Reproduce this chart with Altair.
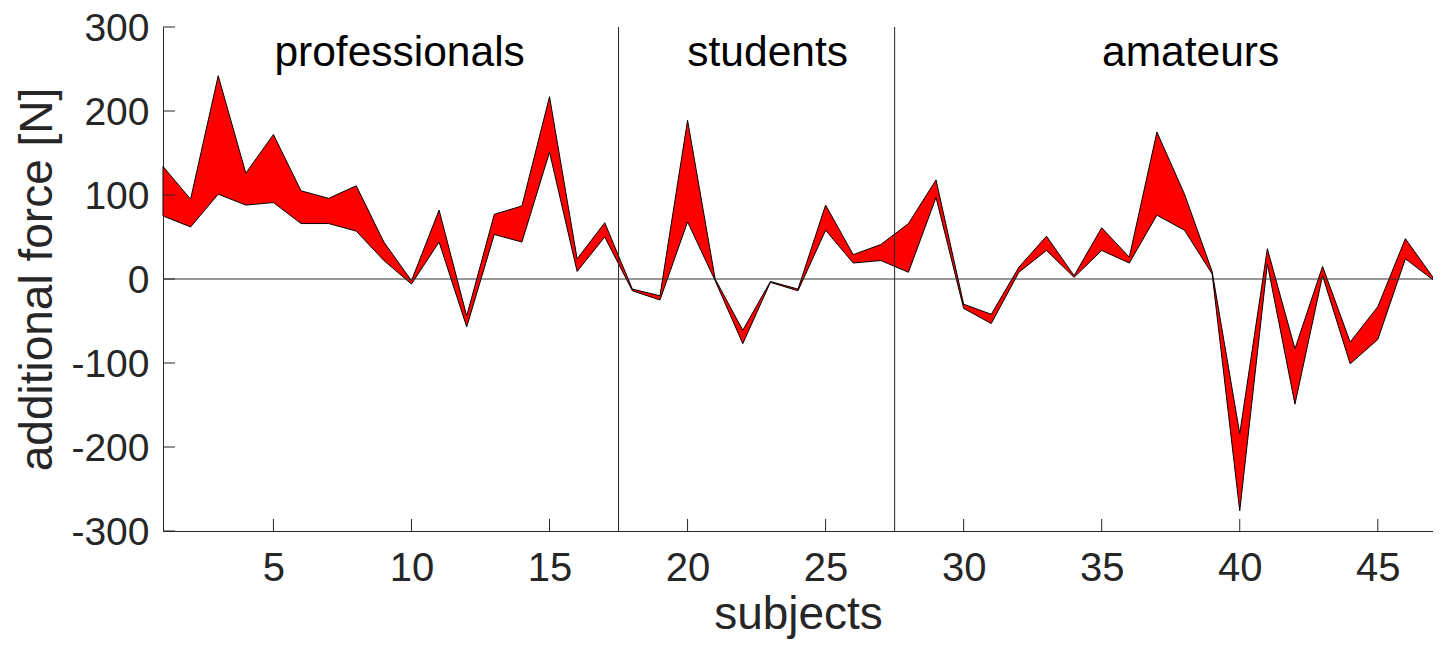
import altair as alt
import pandas as pd

subjects = list(range(1, 48))
upper = [134, 95, 242, 126, 172, 105, 96, 111, 44, -2,
         82, -44, 77, 87, 217, 24, 67, -12, -20, 189,
         0, -61, -3, -12, 88, 29, 41, 66, 118, -30,
         -42, 14, 51, 4, 61, 26, 175, 101, 9, -184,
         36, -83, 15, -75, -33, 48, 2]
lower = [75, 62, 101, 88, 91, 66, 66, 57, 22, -6,
         44, -57, 53, 44, 151, 9, 50, -14, -25, 68,
         -2, -77, -4, -14, 58, 19, 22, 8, 97, -35,
         -53, 8, 34, 2, 34, 19, 76, 58, 6, -276,
         18, -149, 4, -101, -72, 24, -1]

group_names = ["professionals", "students", "amateurs"]
group_x = [9.57, 22.9, 38.22]
group_y = [253, 253, 253]
group_bounds = [17.5, 27.5]

x_ticks = [5, 10, 15, 20, 25, 30, 35, 40, 45]
y_ticks = [-300, -200, -100, 0, 100, 200, 300]

FONT = "Liberation Sans"
W, H = 1270, 504

df = pd.DataFrame({"subject": subjects, "upper": upper, "lower": lower})
xs = alt.Scale(domain=[1, 47], nice=False, zero=False)
ys = alt.Scale(domain=[-300, 300], nice=False, zero=False)

area = alt.Chart(df).mark_area(
    color="#ff0000", stroke="black", strokeWidth=1, interpolate="linear", opacity=1
).encode(
    x=alt.X("subject:Q", scale=xs, title="subjects",
            axis=alt.Axis(values=x_ticks, labelPadding=17, titlePadding=4,
                          labelFontSize=40, titleFontSize=46,
                          labelExpr="toString(datum.value)")),
    y=alt.Y("upper:Q", scale=ys, title="additional force [N]",
            axis=alt.Axis(values=y_ticks, labelPadding=14, titlePadding=9,
                          labelFontSize=39, titleFontSize=46, labelOffset=1.5,
                          labelExpr="toString(datum.value)")),
    y2="lower:Q",
)

zero = alt.Chart(pd.DataFrame({"z": [0]})).mark_rule(
    color="#303030", strokeWidth=1
).encode(y=alt.Y("z:Q", scale=ys))

dividers = alt.Chart(pd.DataFrame({"b": group_bounds})).mark_rule(
    color="#262626", strokeWidth=1
).encode(x=alt.X("b:Q", scale=xs))

labels = alt.Chart(pd.DataFrame({"name": group_names, "gx": group_x, "gy": group_y})).mark_text(
    font=FONT, fontSize=42.5, color="black", align="center", baseline="alphabetic"
).encode(
    x=alt.X("gx:Q", scale=xs),
    y=alt.Y("gy:Q", scale=ys),
    text="name:N",
)

xt = alt.Chart(pd.DataFrame({"t": x_ticks})).mark_rule(color="#262626", strokeWidth=1).encode(
    x=alt.X("t:Q", scale=xs), y=alt.value(H), y2=alt.value(H - 12)
)
yt = alt.Chart(pd.DataFrame({"v": y_ticks})).mark_rule(color="#262626", strokeWidth=1).encode(
    y=alt.Y("v:Q", scale=ys), x=alt.value(0), x2=alt.value(12)
)

chart = alt.layer(area, zero, dividers, labels, xt, yt).properties(
    width=W, height=H, background="white",
    autosize=alt.AutoSizeParams(type="none"),
    padding={"left": 155, "top": 19, "right": 0, "bottom": 108},
).configure_view(stroke=None).configure_axis(
    grid=False, tickSize=0, domainColor="#262626", domainWidth=1,
    labelColor="#262626", titleColor="#262626", labelFont=FONT, titleFont=FONT,
    titleFontWeight="normal", labelFlush=False, labelOverlap=False,
)

chart.save("out.html", embed_options={"renderer": "svg", "actions": False})
